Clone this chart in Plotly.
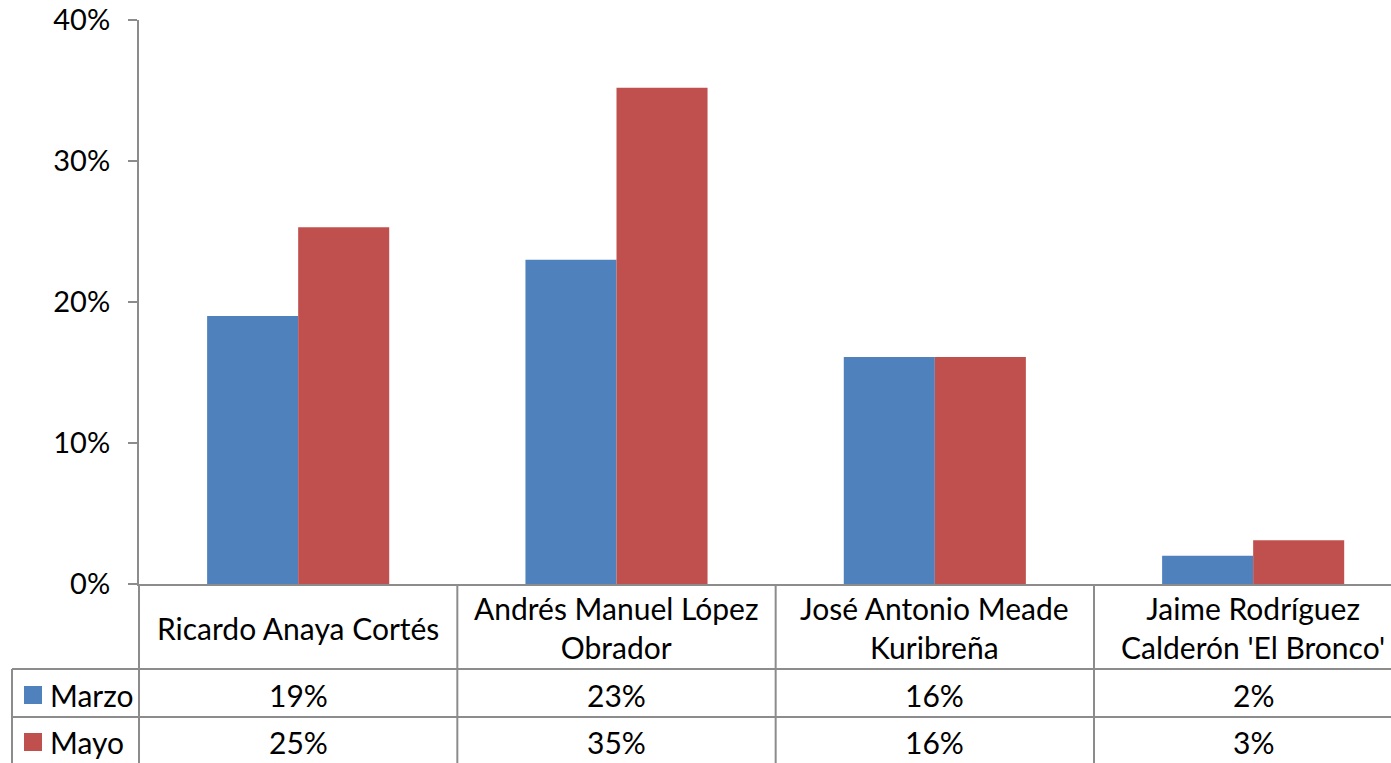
import plotly.graph_objects as go

# Poll results (percent of vote intention)
candidates = [
    "Ricardo Anaya Cortés",
    "Andrés Manuel López<br>Obrador",
    "José Antonio Meade<br>Kuribreña",
    "Jaime Rodríguez<br>Calderón 'El Bronco'",
]
series_names = ["Marzo", "Mayo"]
marzo = [19.0, 23.0, 16.1, 2.0]
mayo = [25.3, 35.2, 16.1, 3.1]
y_ticks = [0, 10, 20, 30, 40]

colors = ["#4F81BD", "#C0504D"]
grid = "#8C8C8C"
FONT = "Lato"
W, H = 1391, 763

# pixel geometry of the chart frame
plot_left = 139
col_w = 318.33
y0_px, y40_px = 584, 20
row_px = [584, 669, 717, 763]


def py(px):
    """paper y from pixel row"""
    return 1 - px / H


x_idx = list(range(len(candidates)))
x_max = -0.5 + (W - plot_left) / col_w

fig = go.Figure()
for name, vals, col in zip(series_names, [marzo, mayo], colors):
    fig.add_trace(go.Bar(
        x=x_idx, y=vals, name=name,
        marker=dict(color=col, line=dict(width=0)),
        hoverinfo="skip",
    ))

shapes = []
annotations = []

# data-table grid: horizontal rules
for rp in row_px[1:3]:
    shapes.append(dict(type="line", xref="paper", yref="paper",
                       x0=12 / W, x1=1, y0=py(rp), y1=py(rp),
                       line=dict(color=grid, width=2)))
# vertical rules between categories
for b in [i + 0.5 for i in x_idx[:-1]]:
    shapes.append(dict(type="line", xref="x", yref="paper",
                       x0=b, x1=b, y0=py(row_px[0]), y1=0,
                       line=dict(color=grid, width=2)))
# left edge of table below the plot and legend column edge
shapes.append(dict(type="line", xref="paper", yref="paper",
                   x0=plot_left / W, x1=plot_left / W, y0=py(row_px[0]), y1=0,
                   line=dict(color=grid, width=2)))
shapes.append(dict(type="line", xref="paper", yref="paper",
                   x0=12 / W, x1=12 / W, y0=py(row_px[1]), y1=0,
                   line=dict(color=grid, width=2)))

# category labels
for i, c in enumerate(candidates):
    annotations.append(dict(x=i, y=py((row_px[0] + row_px[1]) / 2 + 1),
                            xref="x", yref="paper", text=c, showarrow=False,
                            xanchor="center", yanchor="middle",
                            font=dict(family=FONT, size=30, color="#000000")))

# value rows with legend keys
for r, (name, vals, col) in enumerate(zip(series_names, [marzo, mayo], colors)):
    top, bot = row_px[1 + r], row_px[2 + r]
    cy = (top + bot) / 2 + 2
    shapes.append(dict(type="rect", xref="paper", yref="paper",
                       x0=24 / W, x1=42 / W, y0=py(cy - 9), y1=py(cy + 9),
                       fillcolor=col, line=dict(width=0)))
    annotations.append(dict(x=48 / W, y=py(cy), xref="paper", yref="paper",
                            text=name, showarrow=False,
                            xanchor="left", yanchor="middle",
                            font=dict(family=FONT, size=30, color="#000000")))
    for i, v in enumerate(vals):
        annotations.append(dict(x=i, y=py(cy), xref="x", yref="paper",
                                text=f"{v:.0f}%", showarrow=False,
                                xanchor="center", yanchor="middle",
                                font=dict(family=FONT, size=30, color="#000000")))

fig.update_layout(
    width=W, height=H,
    margin=dict(l=0, r=0, t=0, b=0, autoexpand=False),
    paper_bgcolor="white", plot_bgcolor="white",
    barmode="group", bargap=0.428, bargroupgap=0,
    showlegend=False,
    shapes=shapes, annotations=annotations,
    xaxis=dict(domain=[plot_left / W, 1], range=[-0.5, x_max],
               automargin=False,
               showticklabels=False, ticks="", showgrid=False, zeroline=False,
               showline=True, linecolor=grid, linewidth=2),
    yaxis=dict(domain=[py(y0_px), py(y40_px)], range=[0, 40],
               automargin=False,
               tickvals=y_ticks, ticktext=[f"{t}%" for t in y_ticks],
               ticks="outside", ticklen=9, tickwidth=2, tickcolor=grid,
               ticklabelstandoff=12,
               showgrid=False, zeroline=False,
               showline=True, linecolor=grid, linewidth=2,
               tickfont=dict(family=FONT, size=29, color="#000000")),
)

fig.write_html("out.html")
